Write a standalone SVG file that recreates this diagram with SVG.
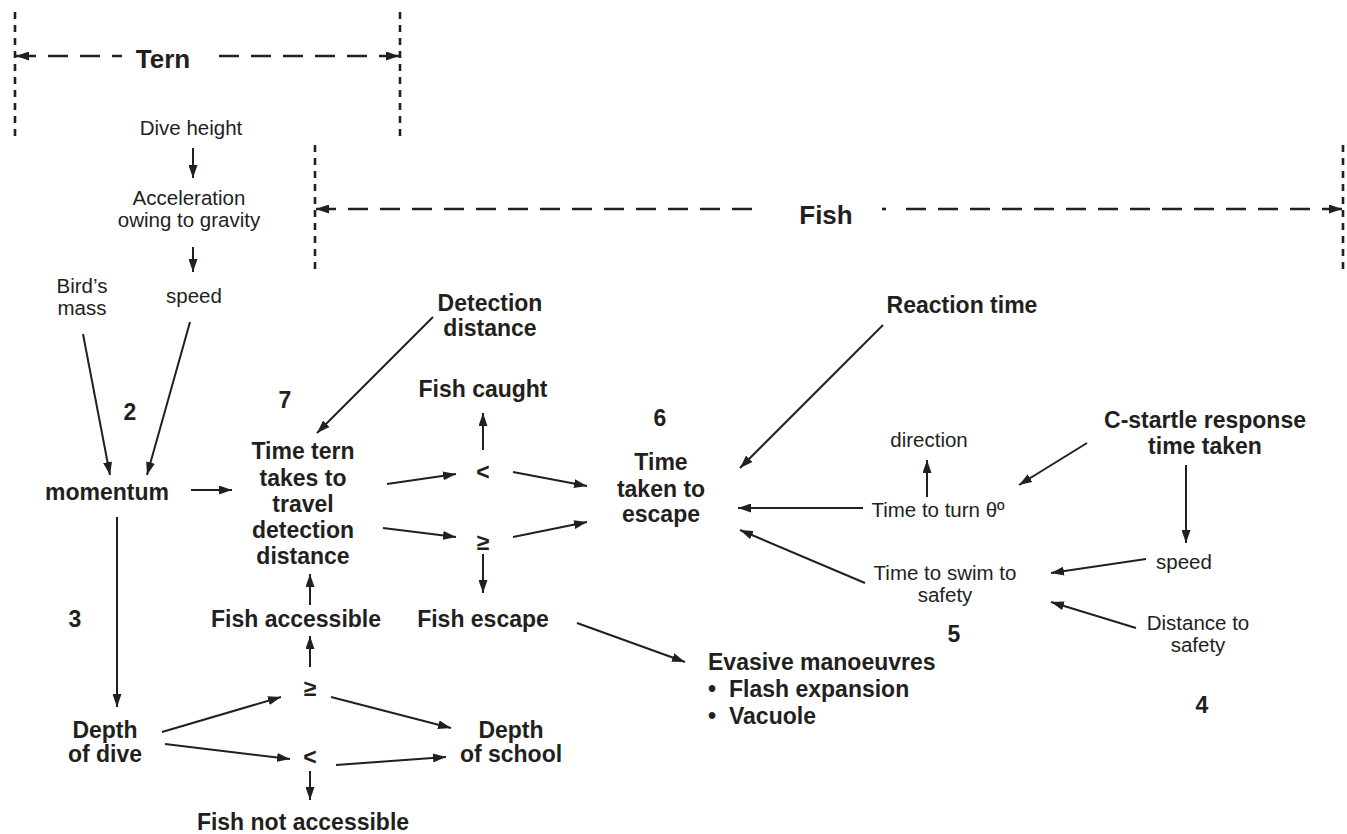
<svg xmlns="http://www.w3.org/2000/svg" width="1347" height="834" viewBox="0 0 1347 834">
<style>
text{font-family:"Liberation Sans",Arial,sans-serif;fill:#231f20}
.b{font-weight:bold;font-size:23px;text-anchor:middle}
.bl{font-weight:bold;font-size:23px}
.r{font-size:20.5px;text-anchor:middle}
.t{font-weight:bold;font-size:26px;text-anchor:middle}
.c line{stroke:#231f20;stroke-width:2;marker-end:url(#ah)}
.dv{stroke:#231f20;stroke-width:2.6;stroke-dasharray:7 6;fill:none}
.dh{stroke:#231f20;stroke-width:2.6;stroke-dasharray:20 12;fill:none}
</style>
<defs>
<marker id="ah" markerWidth="13" markerHeight="9" refX="13" refY="4.5" orient="auto-start-reverse" markerUnits="userSpaceOnUse">
<path d="M0,0 L13,4.5 L0,9 z" fill="#231f20"/>
</marker>
</defs>
<rect width="1347" height="834" fill="#fff"/>
<g id="tern-bracket">
<line class="dv" x1="15" y1="12" x2="15" y2="138"/>
<line class="dv" x1="400" y1="12" x2="400" y2="138"/>
<line class="dh" x1="16" y1="56" x2="122" y2="56" marker-start="url(#ah)"/>
<line class="dh" x1="399" y1="56" x2="215" y2="56" marker-start="url(#ah)"/>
<text class="t" x="163" y="68">Tern</text>
</g>
<g id="fish-bracket">
<line class="dv" x1="315" y1="145" x2="315" y2="273"/>
<line class="dv" x1="1343" y1="145" x2="1343" y2="273"/>
<line class="dh" x1="316" y1="209" x2="760" y2="209" marker-start="url(#ah)"/>
<line class="dh" x1="1342" y1="209" x2="897" y2="209" marker-start="url(#ah)"/>
<line stroke="#231f20" stroke-width="2.6" x1="882" y1="209" x2="886" y2="209"/>
<text class="t" x="826" y="224">Fish</text>
</g>
<g id="dive-height"><text class="r" x="191" y="135">Dive height</text></g>
<g id="acceleration"><text class="r" x="189" y="205">Acceleration</text><text class="r" x="189" y="227">owing to gravity</text></g>
<g id="birds-mass"><text class="r" x="82" y="293">Bird’s</text><text class="r" x="82" y="315">mass</text></g>
<g id="tern-speed"><text class="r" x="194" y="303">speed</text></g>
<g id="momentum"><text class="b" x="107" y="500">momentum</text></g>
<g id="detection-distance"><text class="b" x="490" y="311">Detection</text><text class="b" x="490" y="336">distance</text></g>
<g id="time-tern"><text class="b" x="303" y="459">Time tern</text><text class="b" x="303" y="486">takes to</text><text class="b" x="303" y="512">travel</text><text class="b" x="303" y="538">detection</text><text class="b" x="303" y="564">distance</text></g>
<g id="fish-caught"><text class="b" x="483" y="397">Fish caught</text></g>
<g id="lt-upper"><text class="b" x="483" y="480">&lt;</text></g>
<g id="ge-upper"><text class="b" x="483" y="550">≥</text></g>
<g id="fish-escape"><text class="b" x="483" y="627">Fish escape</text></g>
<g id="fish-accessible"><text class="b" x="296" y="627">Fish accessible</text></g>
<g id="ge-lower"><text class="b" x="310" y="696">≥</text></g>
<g id="lt-lower"><text class="b" x="310" y="765">&lt;</text></g>
<g id="depth-dive"><text class="b" x="105" y="738">Depth</text><text class="b" x="105" y="762">of dive</text></g>
<g id="depth-school"><text class="b" x="511" y="738">Depth</text><text class="b" x="511" y="762">of school</text></g>
<g id="fish-not-accessible"><text class="b" x="303" y="830">Fish not accessible</text></g>
<g id="time-escape"><text class="b" x="661" y="470">Time</text><text class="b" x="661" y="497">taken to</text><text class="b" x="661" y="522">escape</text></g>
<g id="reaction-time"><text class="b" x="962" y="313">Reaction time</text></g>
<g id="c-startle"><text class="b" x="1205" y="428">C-startle response</text><text class="b" x="1205" y="454">time taken</text></g>
<g id="direction"><text class="r" x="929" y="447">direction</text></g>
<g id="time-turn"><text class="r" x="938" y="517">Time to turn θº</text></g>
<g id="fish-speed"><text class="r" x="1184" y="569">speed</text></g>
<g id="time-swim"><text class="r" x="945" y="580">Time to swim to</text><text class="r" x="945" y="602">safety</text></g>
<g id="distance-safety"><text class="r" x="1198" y="630">Distance to</text><text class="r" x="1198" y="652">safety</text></g>
<g id="evasive"><text class="bl" x="708" y="670">Evasive manoeuvres</text><text class="bl" x="708" y="697">•</text><text class="bl" x="729" y="697">Flash expansion</text><text class="bl" x="708" y="724">•</text><text class="bl" x="729" y="724">Vacuole</text></g>
<g id="labels">
<text class="b" x="130" y="420">2</text>
<text class="b" x="75" y="627">3</text>
<text class="b" x="1202" y="713">4</text>
<text class="b" x="954" y="642">5</text>
<text class="b" x="660" y="426">6</text>
<text class="b" x="285" y="408">7</text>
</g>
<g id="connectors" class="c">
<line x1="193" y1="148" x2="193" y2="178"/>
<line x1="193" y1="247" x2="193" y2="272"/>
<line x1="83" y1="334" x2="110" y2="475"/>
<line x1="190" y1="322" x2="147" y2="475"/>
<line x1="191" y1="490" x2="232" y2="490"/>
<line x1="433" y1="317" x2="317" y2="433"/>
<line x1="387" y1="484" x2="456" y2="474"/>
<line x1="383" y1="528" x2="456" y2="537"/>
<line x1="483" y1="450" x2="483" y2="413"/>
<line x1="513" y1="472" x2="587" y2="486"/>
<line x1="513" y1="537" x2="587" y2="522"/>
<line x1="483" y1="554" x2="483" y2="593"/>
<line x1="883" y1="325" x2="740" y2="468"/>
<line x1="863" y1="508" x2="738" y2="508"/>
<line x1="927" y1="497" x2="927" y2="460"/>
<line x1="1087" y1="443" x2="1019" y2="485"/>
<line x1="1186" y1="465" x2="1186" y2="543"/>
<line x1="1146" y1="559" x2="1051" y2="573"/>
<line x1="1136" y1="628" x2="1051" y2="602"/>
<line x1="865" y1="583" x2="740" y2="530"/>
<line x1="310" y1="605" x2="310" y2="574"/>
<line x1="310" y1="667" x2="310" y2="636"/>
<line x1="117" y1="517" x2="117" y2="707"/>
<line x1="162" y1="732" x2="281" y2="697"/>
<line x1="165" y1="744" x2="290" y2="759"/>
<line x1="331" y1="697" x2="451" y2="728"/>
<line x1="336" y1="765" x2="446" y2="757"/>
<line x1="310" y1="771" x2="310" y2="800"/>
<line x1="577" y1="623" x2="685" y2="662"/>
</g>
</svg>
